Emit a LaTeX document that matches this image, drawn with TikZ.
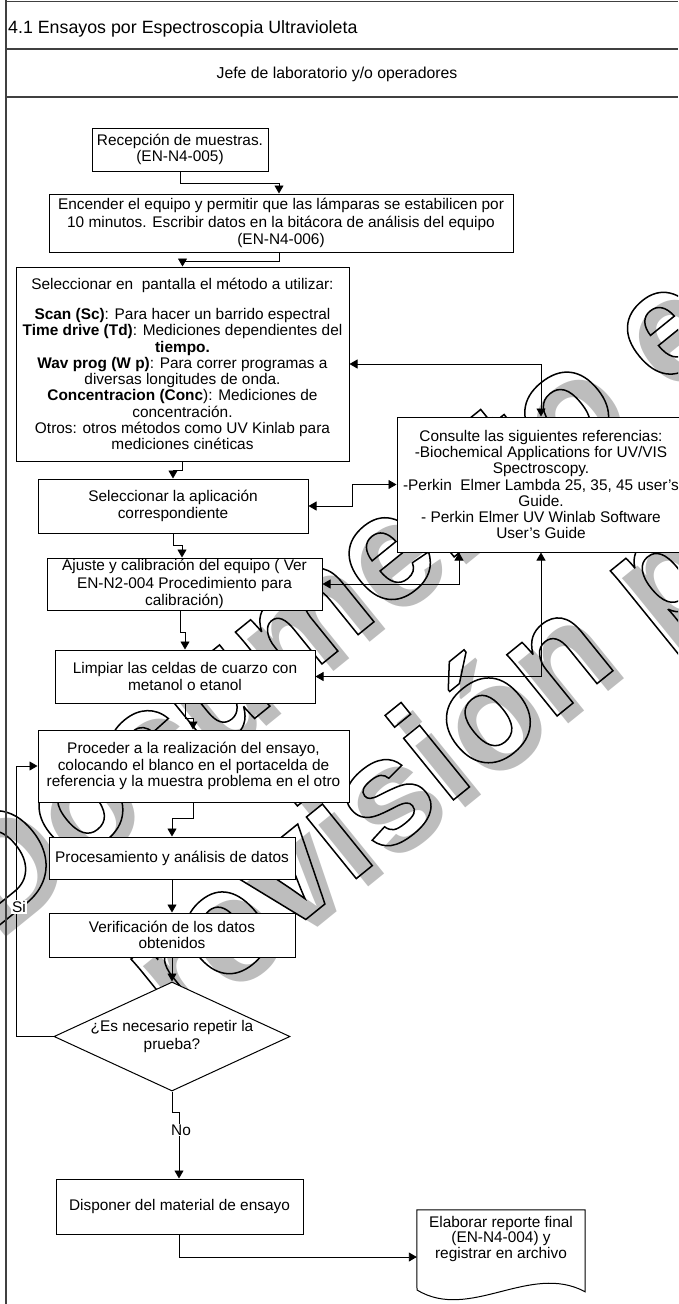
\documentclass[tikz,border=0pt]{standalone}
\usepackage{fontspec}
\setmainfont{Liberation Sans}
\usetikzlibrary{arrows.meta,shapes.geometric}

\definecolor{wmgray}{gray}{0.74}
\definecolor{rulecol}{gray}{0.25}
\newcommand\boxfont{\fontsize{15.4}{16.5}\selectfont}
\newcommand\wmfont{\fontsize{150}{150}\selectfont\bfseries}
% stroke-only glyphs for the watermark
\newcommand\outlinetext[1]{\special{pdf:literal direct 1 Tr 1.5 w 0 G}#1\special{pdf:literal direct 0 Tr}}

\begin{document}
\begin{tikzpicture}[x=1pt,y=-1pt,
  box/.style={draw=black, line width=1pt, fill=white, rectangle, inner sep=0pt, align=center, font=\boxfont},
  lbl/.style={fill=white, inner sep=1pt, font=\boxfont},
  flow/.style={line width=0.9pt, -{Triangle[length=8pt,width=9pt]}},
  both/.style={line width=0.9pt, {Triangle[length=8pt,width=9pt]}-{Triangle[length=8pt,width=9pt]}},
  frameline/.style={line width=1.2pt, draw=rulecol},
  wm/.style={rotate=39, anchor=base west, inner sep=0pt, font=\wmfont}]

\useasboundingbox (0,0) rectangle (678,1304);

% watermark
\begin{scope}
  \clip (0,0) rectangle (678,1304);
  \node[wm, text=wmgray] (wm1s) at (-2,944) {Documento en};
  \node[wm] (wm1) at (-14,936) {\outlinetext{Documento en}};
  \node[wm, text=wmgray] (wm2s) at (185,1035) {revisión p};
  \node[wm] (wm2) at (173,1027) {\outlinetext{revisión p}};
\end{scope}

% lane frame
\draw[frameline] (6,0) -- (6,1304);
\draw[frameline] (6,1.5) -- (678,1.5);
\draw[frameline] (6,49) -- (678,49);
\draw[frameline] (6,97) -- (678,97);
\node[anchor=base west, inner sep=0pt, font=\fontsize{17.8}{20}\selectfont] (title) at (8,33.4) {4.1 Ensayos por Espectroscopia Ultravioleta};
\node[anchor=base, inner sep=0pt, font=\fontsize{15.8}{18}\selectfont] (lane) at (337,78.7) {Jefe de laboratorio y/o operadores};

% process steps
\node[box, minimum width=176, minimum height=43] (b1) at (180,149.5)
  {Recepción de muestras.\\(EN-N4-005)};
\node[box, minimum width=464, minimum height=58, font=\fontsize{15.4}{17.5}\selectfont] (b2) at (281,223)
  {Encender el equipo y permitir que las lámparas se estabilicen por\\10 minutos. Escribir datos en la bitácora de análisis del equipo\\(EN-N4-006)};
\node[box, minimum width=333, minimum height=194, font=\fontsize{15.4}{16.3}\selectfont] (b3) at (182.5,364)
  {Seleccionar en\ \ pantalla el método a utilizar:\\[13.7pt]
   \textbf{Scan (Sc)}: Para hacer un barrido espectral\\
   \textbf{Time drive (Td)}: Mediciones dependientes del\\
   \textbf{tiempo.}\\
   \textbf{Wav prog (W p)}: Para correr programas a\\
   diversas longitudes de onda.\\
   \textbf{Concentracion (Conc}): Mediciones de\\
   concentración.\\
   Otros: otros métodos como UV Kinlab para\\
   mediciones cinéticas};
\node[box, minimum width=270, minimum height=54] (b4) at (173,506)
  {Seleccionar la aplicación\\correspondiente};
\node[box, minimum width=275, minimum height=52, font=\fontsize{15.4}{17.5}\selectfont] (b5) at (184.5,584)
  {Ajuste y calibración del equipo ( Ver\\EN-N2-004 Procedimiento para\\calibración)};
\node[box, minimum width=260, minimum height=53] (b6) at (185,676.5)
  {Limpiar las celdas de cuarzo con\\metanol o etanol};
\node[box, minimum width=311, minimum height=72] (b7) at (193.5,766)
  {Proceder a la realización del ensayo,\\colocando el blanco en el portacelda de\\referencia y la muestra problema en el otro};
\node[box, minimum width=246, minimum height=42] (b8) at (172,858)
  {Procesamiento y análisis de datos};
\node[box, minimum width=246, minimum height=44] (b9) at (172,935)
  {Verificación de los datos\\obtenidos};
\node[box, shape=diamond, aspect=2.17, minimum width=236, minimum height=109, font=\fontsize{15.4}{18.5}\selectfont] (dec) at (172,1036.5)
  {¿Es necesario repetir la\\prueba?};
\node[box, minimum width=247, minimum height=55] (b10) at (179.5,1206.5)
  {Disponer del material de ensayo};
\node[box, minimum width=288, minimum height=135, font=\fontsize{15.4}{16.3}\selectfont] (ref) at (541,484.5)
  {Consulte las siguientes referencias:\\
   -Biochemical Applications for UV/VIS\\
   Spectroscopy.\\
   -Perkin\ \ Elmer Lambda 25, 35, 45 user's\\
   Guide.\\
   - Perkin Elmer UV Winlab Software\\
   User's Guide};

% final report (document shape with wavy lower edge)
\node[rectangle, inner sep=0pt, minimum width=168, minimum height=58, align=center, font=\fontsize{15.4}{15.5}\selectfont] (report) at (501,1239)
  {Elaborar reporte final\\(EN-N4-004) y\\registrar en archivo};
\draw[line width=1pt] (report.north west) -- (report.north east) -- ++(0,82)
  .. controls (530,1262) and (470,1322) .. (417,1290) -- cycle;

% main flow
\draw[flow] (b1.south) -- ++(0,12) -| ([xshift=-2]b2.north);
\draw[flow] ([xshift=-2]b2.south) -- ++(0,9) -| (b3.north);
\draw[flow] (b3.south) -- ++(0,9) -| (b4.north);
\draw[flow] (b4.south) -- ++(0,12) -| ([xshift=-2.5]b5.north);
\draw[flow] ([xshift=-4.5]b5.south) -- ++(0,22) -| (b6.north);
\draw[flow] (b6.south) -- ++(0,15) -| ([xshift=-0.5]b7.north);
\draw[flow] ([xshift=-0.5]b7.south) -- ++(0,16) -| (b8.north);
\draw[flow] (b8.south) -- (b9.north);
\draw[flow] (b9.south) -- (dec.north);
\draw[flow] (dec.west) -- ++(-37,0) |- (b7.west);
\draw[flow] (dec.south) -- ++(0,21) -| ([xshift=-0.5]b10.north);
\draw[flow] ([xshift=-0.5]b10.south) |- ([yshift=-18]report.west);

% links to the reference documents
\draw[both] (b3.east) -| (ref.north);
\draw[both] (b4.east) -- ++(44,0) |- (ref.west);
\draw[both] (b5.east) -| ([xshift=-82]ref.south);
\draw[both] (b6.east) -| (ref.south);

% branch labels
\node[lbl] (si) at (19,907) {Si};
\node[lbl] (no) at (181,1130) {No};
\end{tikzpicture}
\end{document}
